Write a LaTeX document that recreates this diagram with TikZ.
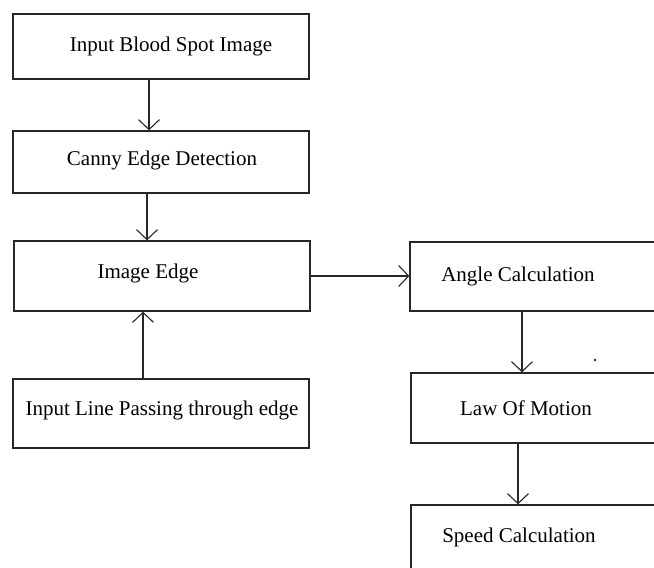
\documentclass[tikz,border=0pt]{standalone}
\usepackage{fontspec}
\setmainfont{Liberation Serif}
\usetikzlibrary{arrows.meta}
\tikzset{
every node/.style={font=\fontsize{21}{25}\selectfont},
stage/.style={ % Sets the properties for each box
draw=black!85,
line width=1.3pt,
minimum width=296pt,
inner sep=0pt},
flow/.style={ % Sets the properties for each arrow
draw=black!85,
line width=1.1pt,
-{Straight Barb[length=10pt,width=21pt]}}}

\begin{document}
\begin{tikzpicture}[x=1pt, y=-1pt]
	\useasboundingbox (0,0) rectangle (654,568);
	\clip (0,0) rectangle (654,568);
	\node[stage, minimum height=65pt, label={[xshift=10pt]center:Input Blood Spot Image}] (blood) at (161,46.5) {};
	\node[stage, minimum height=62pt, label={[xshift=1pt,yshift=2pt]center:Canny Edge Detection}] (canny) at (161,162) {};
	\node[stage, minimum height=70pt, label={[xshift=-14pt,yshift=3pt]center:Image Edge}] (edge) at (162,276) {};
	\node[stage, minimum height=69pt, label={[xshift=1pt,yshift=3pt]center:Input Line Passing through edge}] (line) at (161,413.5) {};
	\node[stage, minimum height=69pt, label={[xshift=-40pt]center:Angle Calculation}] (angle) at (558,276.5) {};
	\node[stage, minimum height=70pt, label={[xshift=-33pt]center:Law Of Motion}] (motion) at (559,408) {};
	\node[stage, minimum height=68pt, label={[xshift=-40pt,yshift=2pt]center:Speed Calculation}] (speed) at (559,539) {};
	\draw[flow] ([xshift=-12pt]blood.south) -- ([xshift=-12pt]canny.north);
	\draw[flow] ([xshift=-14pt]canny.south) -- ([xshift=-15pt]edge.north);
	\draw[flow] ([xshift=-18pt]line.north) -- ([xshift=-19pt]edge.south);
	\draw[flow] (edge.east) -- (edge.east -| angle.west);
	\draw[flow] ([xshift=-36pt]angle.south) -- ([xshift=-37pt]motion.north);
	\draw[flow] ([xshift=-41pt]motion.south) -- ([xshift=-41pt]speed.north);
	\fill[black!85] (595,360) circle (1.3pt);
\end{tikzpicture}
\end{document}
